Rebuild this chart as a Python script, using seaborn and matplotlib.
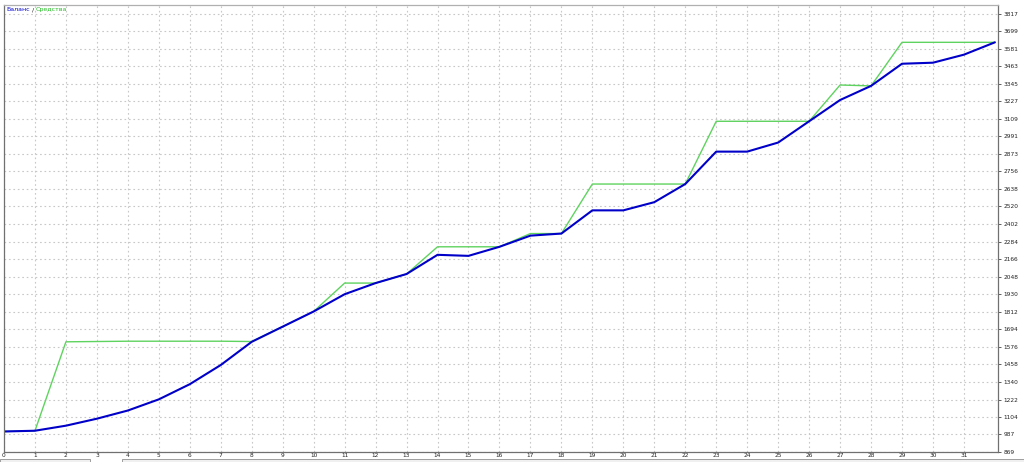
import matplotlib
matplotlib.use("Agg")
import matplotlib.pyplot as plt
import seaborn as sns
import pandas as pd
from matplotlib.patches import Rectangle

steps = list(range(33))
balance = [1007, 1012, 1046, 1093, 1148, 1223, 1325, 1454, 1610, 1712, 1814,
           1930, 2005, 2066, 2195, 2188, 2249, 2324, 2338, 2494, 2494, 2549,
           2671, 2889, 2889, 2950, 3093, 3236, 3331, 3480, 3487, 3541, 3624]
equity = [1007, 1012, 1610, 1612, 1614, 1614, 1614, 1614, 1612, 1712, 1814,
          2005, 2005, 2066, 2249, 2249, 2249, 2338, 2338, 2671, 2671, 2671,
          2671, 3093, 3093, 3093, 3093, 3337, 3331, 3624, 3624, 3624, 3624]
y_ticks = [869, 987, 1104, 1222, 1340, 1458, 1576, 1694, 1812, 1930, 2048, 2166,
           2284, 2402, 2520, 2638, 2756, 2873, 2991, 3109, 3227, 3345, 3463,
           3581, 3699, 3817]
x_ticks = list(range(32))
legend_balance = "Баланс"
legend_sep = " / "
legend_equity = "Средства"

df = pd.DataFrame({"step": steps, "balance": balance, "equity": equity})

sns.set_style("white")
plt.rcParams['font.family'] = ['DejaVu Sans']

W, H = 1024, 462
fig = plt.figure(figsize=(W / 100, H / 100), dpi=100)
fig.patch.set_facecolor("white")
ax = fig.add_axes([4 / W, 1 - 452 / H, (998 - 4) / W, (452 - 5) / H])

sns.lineplot(data=df, x="step", y="equity", ax=ax, color="#5fd35f", linewidth=1.0)
sns.lineplot(data=df, x="step", y="balance", ax=ax, color="#0000c8", linewidth=1.5)

ax.set_xlim(0, 32.1)
ax.set_ylim(869, 3875)
ax.set_xticks(x_ticks)
ax.set_xticklabels([str(v) for v in x_ticks], fontsize=4.2, color="#222222")
ax.set_yticks(y_ticks)
ax.set_yticklabels([str(v) for v in y_ticks], fontsize=4.2, color="#222222")
ax.yaxis.tick_right()
ax.tick_params(axis="y", length=2, width=0.6, pad=2, colors="#444444", labelcolor="#222222")
ax.tick_params(axis="x", length=0, width=0.6, pad=1, colors="#444444", labelcolor="#222222")
ax.set_xlabel("")
ax.set_ylabel("")
ax.grid(True, color="#c8c8c8", linestyle=(0, (1.5, 2.5)), linewidth=0.8)
ax.set_axisbelow(True)
for side in ["left", "right", "bottom", "top"]:
    ax.spines[side].set_visible(True)
    ax.spines[side].set_color("#707070")
    ax.spines[side].set_linewidth(0.9)
ax.spines["top"].set_color("#b0b0b0")

t1 = ax.text(0.002, 0.995, legend_balance, transform=ax.transAxes, fontsize=4.5,
             color="#0000c8", va="top", ha="left")
t2 = ax.annotate(legend_sep, xy=(1, 0), xycoords=t1, fontsize=4.5,
                 color="#222222", va="bottom", ha="left")
ax.annotate(legend_equity, xy=(1, 0), xycoords=t2, fontsize=4.5,
            color="#22bb22", va="bottom", ha="left")

# bottom scrollbar-like strips
fig.patches.append(Rectangle((0, 0), 90 / W, 3 / H, transform=fig.transFigure,
                             facecolor="#f0f0f0", edgecolor="#909090", linewidth=0.6))
fig.patches.append(Rectangle((122 / W, 0), 1 - 122 / W, 3 / H, transform=fig.transFigure,
                             facecolor="#f0f0f0", edgecolor="#909090", linewidth=0.6))

fig.savefig("out.png", dpi=100, facecolor="white")
